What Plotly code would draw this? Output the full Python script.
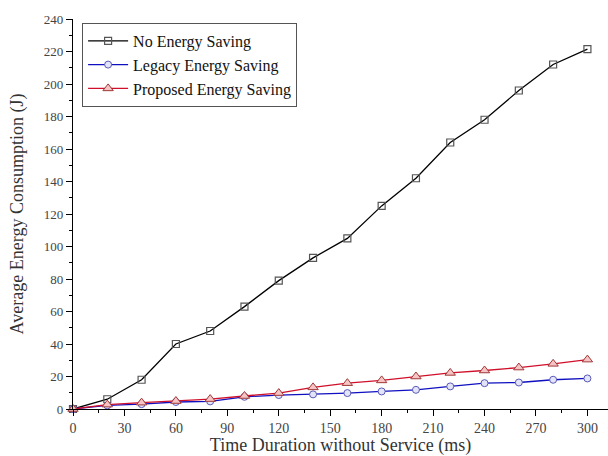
import plotly.graph_objects as go

x_ms = [0, 20, 40, 60, 80, 100, 120, 140, 160, 180, 200, 220, 240, 260, 280, 300]
no_saving = [0, 6, 18, 40, 48, 63, 79, 93, 105, 125, 142, 164, 178, 196, 212, 221.5]
legacy_saving = [0, 2.2, 3, 4.3, 4.7, 7.5, 8.6, 9, 9.8, 10.8, 11.8, 13.9, 15.9, 16.3, 18, 18.8]
proposed_saving = [0, 2.7, 3.9, 4.9, 6.1, 8, 9.8, 13.3, 15.9, 17.6, 20, 22.2, 23.7, 25.5, 27.8, 30.4]

x_ticks = list(range(0, 301, 30))
y_ticks = list(range(0, 241, 20))

font_family = "Liberation Serif, Times New Roman, serif"

fig = go.Figure()
fig.add_trace(go.Scatter(
    x=x_ms, y=no_saving, name="No Energy Saving", mode="lines+markers",
    line=dict(color="black", width=1.3),
    marker=dict(symbol="square-open", size=7, color="#555555", line=dict(width=1.2)),
    cliponaxis=False,
))
fig.add_trace(go.Scatter(
    x=x_ms, y=legacy_saving, name="Legacy Energy Saving", mode="lines+markers",
    line=dict(color="#1010c0", width=1.3),
    marker=dict(symbol="circle", size=7, color="#e4e4f8", line=dict(color="#5a5ab8", width=1)),
    cliponaxis=False,
))
fig.add_trace(go.Scatter(
    x=x_ms, y=proposed_saving, name="Proposed Energy Saving", mode="lines+markers",
    line=dict(color="#d0102a", width=1.3),
    marker=dict(symbol="triangle-up", size=9, color="#f6c4c4", line=dict(color="#a03838", width=1)),
    cliponaxis=False,
))

fig.update_layout(
    width=608, height=456,
    margin=dict(l=73, r=0, t=19, b=47, autoexpand=False),
    paper_bgcolor="white", plot_bgcolor="white",
    font=dict(family=font_family, color="#222222"),
    showlegend=True,
    legend=dict(
        x=0.017, y=0.99, xanchor="left", yanchor="top",
        bgcolor="white", bordercolor="#555555", borderwidth=1,
        font=dict(family=font_family, size=16, color="#111111"),
        tracegroupgap=0, itemwidth=40,
    ),
    xaxis=dict(
        range=[0, 312], tickvals=x_ticks, showgrid=False, zeroline=False, automargin=False,
        showline=True, linecolor="black", linewidth=1.3,
        ticks="outside", ticklen=6, tickcolor="black", tickwidth=1.2,
        minor=dict(dtick=15, tick0=0, ticks="outside", ticklen=3, tickcolor="black", showgrid=False),
        tickfont=dict(family=font_family, size=14, color="#444444"),
        title=dict(text="Time Duration without Service (ms)",
                   font=dict(family=font_family, size=18, color="#333333")),
    ),
    yaxis=dict(
        range=[0, 240], tickvals=y_ticks, showgrid=False, zeroline=False, automargin=False,
        showline=True, linecolor="black", linewidth=1.3,
        ticks="outside", ticklen=6, tickcolor="black", tickwidth=1.2,
        minor=dict(dtick=10, tick0=0, ticks="outside", ticklen=3, tickcolor="black", showgrid=False),
        tickfont=dict(family=font_family, size=13, color="#444444"),
        title=dict(text="Average Energy Consumption (J)",
                   font=dict(family=font_family, size=18, color="#333333")),
    ),
)

fig.write_html("out.html", config={"displayModeBar": False},
               post_script="document.body.style.margin='0px';")
